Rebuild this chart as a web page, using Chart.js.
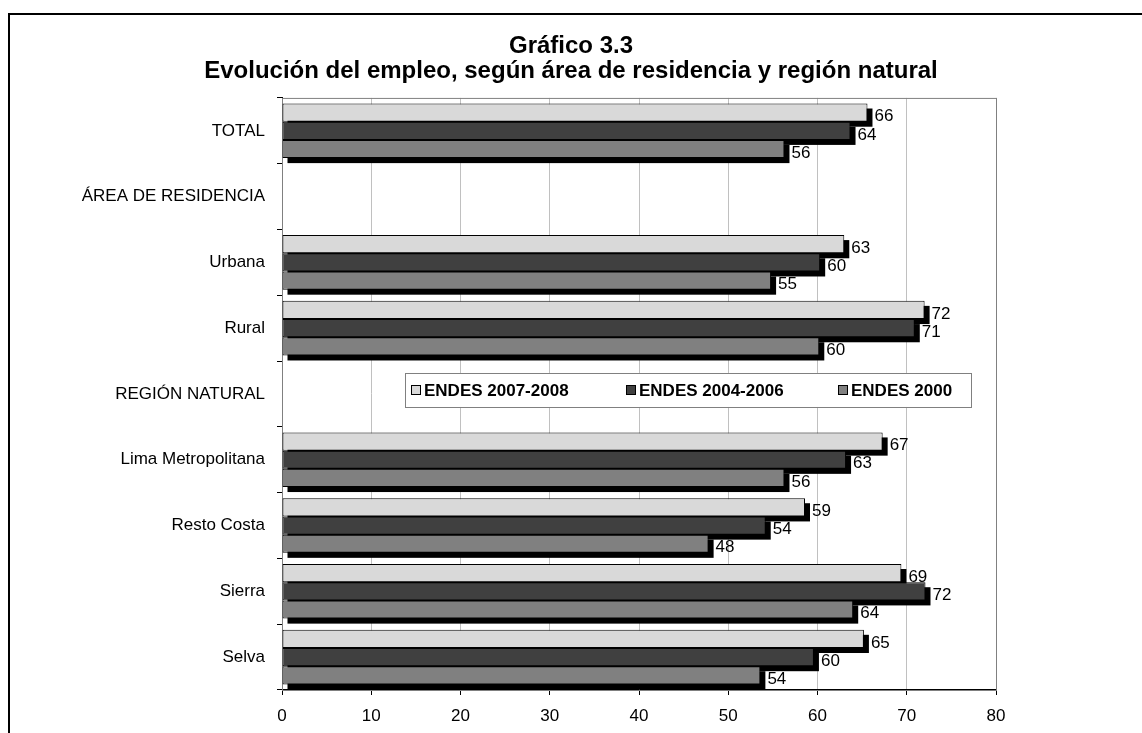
<!DOCTYPE html>
<html>
<head>
<meta charset="utf-8">
<script src="https://cdn.jsdelivr.net/npm/chart.js@4.4.1/dist/chart.umd.min.js"></script>
<style>
  html, body { margin: 0; padding: 0; background: #fff; overflow: hidden; }
  #frame { position: absolute; left: 8px; top: 13px; width: 1300px; height: 900px; border: 2px solid #000; }
  #chart { position: absolute; left: 0; top: 0; }
</style>
</head>
<body>
<div id="frame"></div>
<canvas id="chart" width="1142" height="733"></canvas>
<script>
  // Gráfico 3.3 - empleo por área de residencia y región natural
  const categories = ['TOTAL', 'ÁREA DE RESIDENCIA', 'Urbana', 'Rural', 'REGIÓN NATURAL',
    'Lima Metropolitana', 'Resto Costa', 'Sierra', 'Selva'];
  const seriesNames = ['ENDES 2007-2008', 'ENDES 2004-2006', 'ENDES 2000'];
  const endes2008 = [65.6, null, 63.0, 72.0, null, 67.3, 58.6, 69.4, 65.2];
  const endes2006 = [63.7, null, 60.3, 70.9, null, 63.2, 54.2, 72.1, 59.6];
  const endes2000 = [56.3, null, 54.8, 60.2, null, 56.3, 47.8, 64.0, 53.6];
  const seriesColors = ['#d9d9d9', '#404040', '#808080'];
  const titleLines = ['Gráfico 3.3', 'Evolución del empleo, según área de residencia y región natural'];

  const FONT = "'Liberation Sans', Arial, sans-serif";
  const SHADOW = 5;

  // grey plot frame + black drop shadows drawn under the bars (Excel look).
  // BarElement clips to its own rect, so ctx.shadow* can't be used.
  const barShadow = {
    id: 'barShadow',
    beforeDatasetsDraw(chart) {
      let ctx = chart.ctx, a = chart.chartArea;
      ctx.save();
      ctx.strokeStyle = '#808080';
      ctx.lineWidth = 1;
      ctx.strokeRect(a.left + 0.5, a.top + 0.5, a.right - a.left, a.bottom - a.top);
      ctx.fillStyle = '#000';
      chart.data.datasets.forEach((ds, i) => {
        chart.getDatasetMeta(i).data.forEach((bar, j) => {
          if (ds.data[j] == null) return;
          let p = bar.getProps(['x', 'y', 'base', 'height']),
            left = Math.min(p.x, p.base),
            w = Math.abs(p.x - p.base);
          ctx.fillRect(left + SHADOW, p.y - p.height / 2 + SHADOW, w, p.height);
        });
      });
      ctx.restore();
    }
  };

  // value labels + boxed legend inside the plot
  const labelsAndLegend = {
    id: 'labelsAndLegend',
    afterDraw(chart) {
      let ctx = chart.ctx,
        x = chart.scales.x,
        y = chart.scales.y;
      ctx.save();
      ctx.font = '17px ' + FONT;
      ctx.fillStyle = '#000';
      ctx.textAlign = 'left';
      ctx.textBaseline = 'middle';
      chart.data.datasets.forEach((ds, i) => {
        chart.getDatasetMeta(i).data.forEach((bar, j) => {
          let v = ds.data[j];
          if (v == null) return;
          ctx.fillText(String(Math.round(v)), bar.x + SHADOW + 2, bar.y + 4);
        });
      });

      // legend box over the REGIÓN NATURAL row
      let left = x.getPixelForValue(13.8),
        right = x.getPixelForValue(77.2),
        cy = y.getPixelForValue(4) - 4,
        top = cy - 17,
        h = 34;
      ctx.fillStyle = '#fff';
      ctx.fillRect(left, top, right - left, h);
      ctx.strokeStyle = '#808080';
      ctx.lineWidth = 1;
      ctx.strokeRect(Math.round(left) + 0.5, Math.round(top) + 0.5, Math.round(right - left), h);
      ctx.font = 'bold 17px ' + FONT;
      let xs = [left + 6, left + 221, left + 433];
      chart.data.datasets.forEach((ds, i) => {
        let mx = Math.round(xs[i]), my = Math.round(cy - 5);
        ctx.fillStyle = ds.backgroundColor;
        ctx.fillRect(mx, my, 9, 9);
        ctx.strokeStyle = '#000';
        ctx.strokeRect(mx + 0.5, my + 0.5, 9, 9);
        ctx.fillStyle = '#000';
        ctx.fillText(ds.label, mx + 13, cy + 1);
      });
      ctx.restore();
    }
  };

  new Chart(document.getElementById('chart').getContext('2d'), {
    type: 'bar',
    data: {
      labels: categories,
      datasets: [endes2008, endes2006, endes2000].map((d, i) => ({
        label: seriesNames[i],
        data: d,
        backgroundColor: seriesColors[i],
        borderColor: '#000',
        borderWidth: 1,
        borderSkipped: false,
        categoryPercentage: 0.83,
        barPercentage: 1.0
      }))
    },
    options: {
      indexAxis: 'y',
      responsive: false,
      animation: false,
      layout: { padding: { left: 80, right: 80, top: 20, bottom: 0 } },
      scales: {
        x: {
          min: 0,
          max: 80,
          ticks: { stepSize: 10, color: '#000', padding: 11, font: { family: FONT, size: 17 } },
          grid: { color: '#c0c0c0', tickColor: '#000', tickLength: 5 },
          border: { color: '#000', width: 1 },
          afterFit(s) { s.height = 43; }
        },
        y: {
          ticks: { color: '#000', padding: 12, font: { family: FONT, size: 17 } },
          grid: { drawOnChartArea: false, tickColor: '#000', tickLength: 5, offset: true },
          border: { color: '#000', width: 1 },
          afterFit(s) { s.width = 202; }
        },
        // empty right-hand spacer so the title stays centred on the page
        y2: {
          type: 'category',
          axis: 'y',
          position: 'right',
          ticks: { display: false },
          grid: { display: false },
          border: { display: false },
          afterFit(s) { s.width = 66; }
        }
      },
      plugins: {
        legend: { display: false },
        tooltip: { enabled: false },
        title: {
          display: true,
          text: titleLines,
          color: '#000',
          font: { family: FONT, size: 24, weight: 'bold', lineHeight: 1.04 },
          padding: { top: 14, bottom: 14 }
        }
      }
    },
    plugins: [barShadow, labelsAndLegend]
  });
</script>
</body>
</html>
